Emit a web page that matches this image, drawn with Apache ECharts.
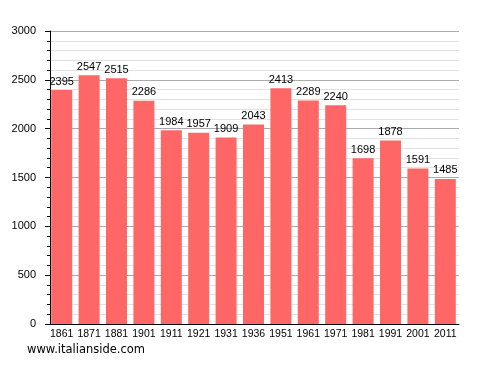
<!DOCTYPE html>
<html><head><meta charset="utf-8">
<script src="https://cdn.jsdelivr.net/npm/echarts@6/dist/echarts.min.js"></script>
<style>html,body{margin:0;padding:0;background:#fff}#c{width:488px;height:373px}</style>
</head><body><div id="c"></div>
<script>
const categories = ['1861','1871','1881','1901','1911','1921','1931','1936','1951','1961','1971','1981','1991','2001','2011'];
const population = [2395,2547,2515,2286,1984,1957,1909,2043,2413,2289,2240,1698,1878,1591,1485];
const chart = echarts.init(document.getElementById('c'));
chart.setOption({
  animation:false,
  backgroundColor:'#fff',
  grid:{left:48,right:29,top:31,bottom:49},
  graphic:[{type:'text',left:27,top:344,style:{text:'www.italianside.com',font:'11.5px "DejaVu Sans", sans-serif',fill:'#000'}}],
  xAxis:{type:'category',data:categories,
    axisLine:{lineStyle:{color:'#000',width:1}},axisTick:{show:false},
    axisLabel:{color:'#000',fontFamily:'Liberation Sans',fontSize:10.5,margin:5,interval:0}},
  yAxis:{type:'value',min:0,max:3000,interval:500,offset:-2,
    axisLine:{show:true,lineStyle:{color:'#000'}},
    axisTick:{show:true,length:5,lineStyle:{color:'#000'}},
    minorTick:{show:true,splitNumber:5,length:3,lineStyle:{color:'#000'}},
    splitLine:{lineStyle:{color:'#aaaaaa'}},
    minorSplitLine:{show:true,lineStyle:{color:'#e2e2e2'}},
    axisLabel:{color:'#000',fontFamily:'Liberation Sans',fontSize:11,margin:14,formatter:v=>String(v)}},
  series:[{type:'bar',data:population,barWidth:21,
    itemStyle:{color:'#ff6666'},
    label:{show:true,position:'top',distance:3,color:'#000',fontFamily:'Liberation Sans',fontSize:11}}]
});
</script></body></html>
